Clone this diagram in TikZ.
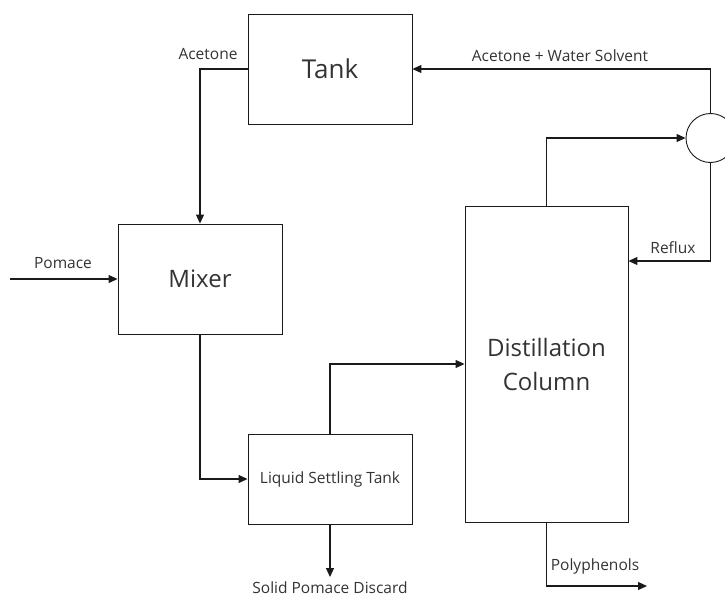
\documentclass[tikz,border=0pt]{standalone}
\usepackage{fontspec}
\setmainfont{Open Sans}
\usetikzlibrary{arrows.meta}
\definecolor{ink}{HTML}{1A1A1A}
\definecolor{txt}{HTML}{333333}
\tikzset{
  unit/.style={draw=ink, line width=0.9pt, fill=white, inner sep=0pt, text=txt},
  flow/.style={draw=ink, line width=1.1pt, -{Triangle[length=9pt,width=8pt]}},
  lbl/.style={text=txt, font=\fontsize{15.5}{18}\selectfont, inner sep=1pt},
}
\begin{document}
\begin{tikzpicture}[x=1pt, y=-1pt]
  \useasboundingbox (0,0) rectangle (725,597);
  % process units
  \node[unit, minimum width=164pt, minimum height=110pt, font=\fontsize{26}{30}\selectfont] (tank) at (330,69) {Tank};
  \node[unit, minimum width=164pt, minimum height=110pt, font=\fontsize{24}{28}\selectfont] (mixer) at (200,279) {Mixer};
  \node[unit, minimum width=164pt, minimum height=90pt, font=\fontsize{15.5}{18}\selectfont] (lst) at (330,479) {Liquid Settling Tank};
  \node[unit, minimum width=163pt, minimum height=316pt, align=center, font=\fontsize{24}{34}\selectfont] (dist) at (546.5,364) {Distillation\\Column};
  \node[unit, circle, minimum size=49pt] (sep) at (710.5,138) {};
  % free stream ends
  \coordinate (feed) at (10,279);
  \coordinate (discard) at (330,577);
  \coordinate (product) at (647,586);
  % streams
  \draw[flow] (tank.west) -| (mixer.north);
  \draw[flow] (feed) -- (mixer.west);
  \draw[flow] (mixer.south) |- (lst.west);
  \draw[flow] (lst.north) |- (dist.west);
  \draw[flow] (dist.north) |- (sep.west);
  \draw[flow] (sep.north) |- (tank.east);
  \draw[flow] (sep.south) |- ([yshift=103pt]dist.east);
  \draw[flow] (lst.south) -- (discard);
  \draw[flow] (dist.south) |- (product);
  % stream labels
  \node[lbl] (lacetone) at (208,54) {Acetone};
  \node[lbl] (lsolvent) at (560,56) {Acetone + Water Solvent};
  \node[lbl] (lpomace) at (63,263) {Pomace};
  \node[lbl] (lreflux) at (673,248) {Reflux};
  \node[lbl] (lpoly) at (595,566) {Polyphenols};
  \node[lbl] (ldiscard) at (330,588) {Solid Pomace Discard};
\end{tikzpicture}
\end{document}
